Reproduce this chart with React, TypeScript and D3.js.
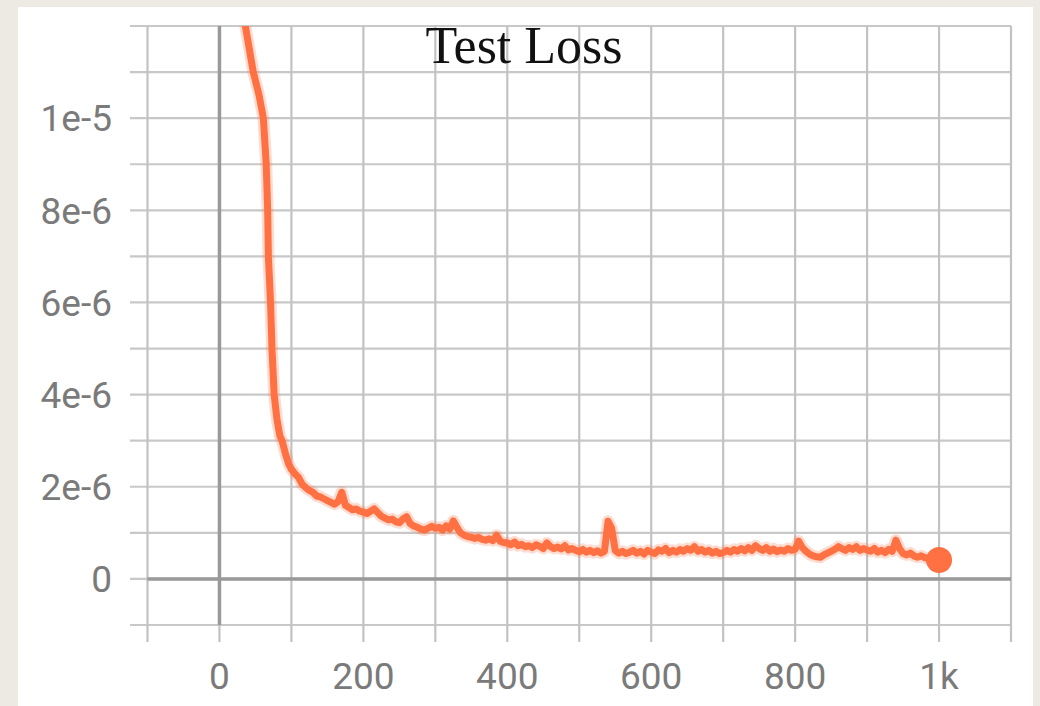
import * as d3 from 'd3';
import React from 'react';

// test loss, values in units of 1e-6
const headSteps = [20, 36, 47, 55, 61, 63, 65, 67, 68, 71, 73, 76, 80, 84, 87, 92, 96];
const headLoss = [14.0, 12.0, 11.0, 10.5, 10.0, 9.5, 9.0, 8.0, 7.0, 6.0, 5.0, 4.0, 3.45, 3.1, 3.0, 2.7, 2.5];

// steps 100..1000 every 5
const tailLoss = [
  2.38, 2.28, 2.2, 2.05, 1.98, 1.92, 1.88, 1.8, 1.78, 1.74,
  1.7, 1.66, 1.62, 1.68, 1.88, 1.6, 1.55, 1.5, 1.52, 1.47,
  1.45, 1.42, 1.47, 1.52, 1.44, 1.36, 1.32, 1.28, 1.3, 1.24,
  1.22, 1.3, 1.35, 1.2, 1.15, 1.12, 1.08, 1.06, 1.1, 1.14,
  1.1, 1.12, 1.06, 1.15, 1.08, 1.26, 1.12, 1.0, 0.95, 0.92,
  0.9, 0.88, 0.9, 0.86, 0.84, 0.87, 0.83, 0.95, 0.82, 0.79,
  0.78, 0.74, 0.8, 0.72, 0.75, 0.7, 0.72, 0.68, 0.74, 0.71,
  0.66, 0.78, 0.7, 0.66, 0.69, 0.65, 0.72, 0.63, 0.66, 0.62,
  0.59, 0.64, 0.58, 0.62, 0.57, 0.61, 0.56, 0.6, 1.25, 1.1,
  0.62, 0.56, 0.6, 0.55, 0.58, 0.62, 0.56, 0.6, 0.54, 0.62,
  0.58, 0.55, 0.63, 0.6, 0.66, 0.57, 0.62, 0.58, 0.64, 0.6,
  0.66, 0.62, 0.7, 0.6, 0.64, 0.58, 0.62, 0.56, 0.6, 0.55,
  0.57, 0.62, 0.58, 0.64, 0.6, 0.66, 0.61, 0.68, 0.62, 0.72,
  0.66, 0.62, 0.68, 0.6, 0.65, 0.59, 0.63, 0.6, 0.66, 0.62,
  0.64, 0.82, 0.68, 0.6, 0.54, 0.5, 0.48, 0.47, 0.52, 0.56,
  0.6, 0.64, 0.7, 0.66, 0.62, 0.68, 0.64, 0.7, 0.62, 0.66,
  0.63, 0.6, 0.66, 0.58, 0.62, 0.57, 0.64, 0.6, 0.84, 0.66,
  0.55, 0.52, 0.56, 0.5, 0.47, 0.5, 0.46, 0.44, 0.45, 0.42,
  0.41,
];

const xTicks = [0, 200, 400, 600, 800, 1000];
const xTickLabels = ['0', '200', '400', '600', '800', '1k'];
const yTicks = [0, 2, 4, 6, 8, 10];
const yTickLabels = ['0', '2e-6', '4e-6', '6e-6', '8e-6', '1e-5'];

const W = 1040;
const H = 706;

export default function App() {
  const x = d3.scaleLinear().domain([-100, 1100]).range([147.5, 1011]);
  const y = d3.scaleLinear().domain([-1, 12]).range([625, 26]);

  const data: [number, number][] = [
    ...headSteps.map((s, i) => [s, headLoss[i]] as [number, number]),
    ...tailLoss.map((v, i) => [100 + i * 5, v] as [number, number]),
  ];

  const line = d3.line<[number, number]>()
    .x(d => x(d[0]))
    .y(d => y(d[1]));

  const gridX = d3.range(-100, 1101, 100);
  const gridY = d3.range(-1, 13, 1);
  const last = data[data.length - 1];
  const font = 'Roboto, "Noto Sans", sans-serif';

  return (
    <svg width={W} height={H} style={{ position: 'absolute', left: 0, top: 0 }}>
      <defs>
        <clipPath id="plot">
          <rect x={x(-100)} y={y(12)} width={x(1100) - x(-100)} height={y(-1) - y(12)} />
        </clipPath>
      </defs>
      <rect width={W} height={H} fill="#edeae3" />
      <rect x={18} y={7} width={1015} height={H} fill="#ffffff" />

      {/* grid */}
      {gridY.map(v => (
        <line key={'gy' + v} x1={130} x2={x(1100)} y1={y(v)} y2={y(v)} stroke="#c8c8c8" strokeWidth={2.2} />
      ))}
      {gridX.map(v => (
        <line key={'gx' + v} x1={x(v)} x2={x(v)} y1={y(12)} y2={642} stroke="#c2c2c2" strokeWidth={2.2} />
      ))}
      <line x1={x(-100)} x2={x(1100)} y1={y(0)} y2={y(0)} stroke="#999999" strokeWidth={3.5} />
      <line x1={x(0)} x2={x(0)} y1={y(12)} y2={y(-1)} stroke="#999999" strokeWidth={3.5} />

      {/* labels */}
      {yTicks.map((v, i) => (
        <text key={'yl' + v} x={112} y={y(v)} dy="0.36em" textAnchor="end"
          fontFamily={font} fontSize={37} fill="#7a7a7a">{yTickLabels[i]}</text>
      ))}
      {xTicks.map((v, i) => (
        <text key={'xl' + v} x={x(v)} y={689} textAnchor="middle"
          fontFamily={font} fontSize={37} fill="#7a7a7a">{xTickLabels[i]}</text>
      ))}

      {/* series */}
      <g clipPath="url(#plot)">
        <path d={line(data) ?? ''} fill="none" stroke="#ff7043" strokeOpacity={0.25}
          strokeWidth={12} strokeLinejoin="round" />
        <path d={line(data) ?? ''} fill="none" stroke="#ff7043" strokeWidth={7}
          strokeLinejoin="round" strokeLinecap="round" />
        <circle cx={x(last[0])} cy={y(last[1])} r={13} fill="#ff7043" />
      </g>

      <text x={524} y={63} textAnchor="middle" fontFamily='"Liberation Serif", "DejaVu Serif", serif'
        fontSize={52} fill="#111111">Test Loss</text>
    </svg>
  );
}
